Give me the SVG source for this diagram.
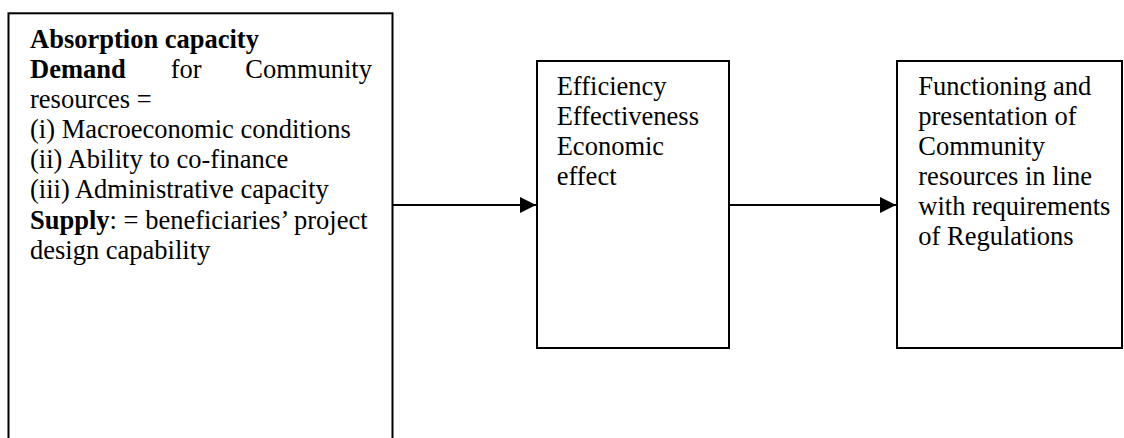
<svg xmlns="http://www.w3.org/2000/svg" width="1124" height="438" viewBox="0 0 1124 438">
<style>
.box{fill:#fff;stroke:#000;stroke-width:2}
.t{font-family:"Liberation Serif","Times New Roman",serif;font-size:26.5px;fill:#000}
.b{font-weight:bold}
.conn{stroke:#000;stroke-width:2;fill:none}
</style>
<defs>
<marker id="ah" markerWidth="16" markerHeight="16" refX="16" refY="8" orient="auto" markerUnits="userSpaceOnUse">
<path d="M0,0 L16,8 L0,16 Z" fill="#000"/>
</marker>
</defs>
<rect width="1124" height="438" fill="#fff"/>
<g id="connectors">
<line class="conn" x1="393" y1="205" x2="536" y2="205" marker-end="url(#ah)"/>
<line class="conn" x1="729" y1="205" x2="896" y2="205" marker-end="url(#ah)"/>
</g>
<g id="node-absorption">
<rect class="box" x="8.5" y="13.3" width="384" height="450"/>
<text class="t" x="30" y="48.3"><tspan class="b">Absorption capacity</tspan></text>
<text class="t" x="30" y="78.3"><tspan class="b">Demand</tspan></text>
<text class="t" x="170.7" y="78.3">for</text>
<text class="t" x="372" y="78.3" text-anchor="end">Community</text>
<text class="t" x="30" y="108.3">resources =</text>
<text class="t" x="30" y="138.3">(i) Macroeconomic conditions</text>
<text class="t" x="30" y="168.3">(ii) Ability to co-finance</text>
<text class="t" x="30" y="198.3">(iii) Administrative capacity</text>
<text class="t" x="30" y="229"><tspan class="b">Supply</tspan>: = beneficiaries’ project</text>
<text class="t" x="30" y="259">design capability</text>
</g>
<g id="node-efficiency">
<rect class="box" x="537" y="61" width="192" height="287"/>
<text class="t" x="556.7" y="95">Efficiency</text>
<text class="t" x="556.7" y="125">Effectiveness</text>
<text class="t" x="556.7" y="155">Economic</text>
<text class="t" x="556.7" y="185">effect</text>
</g>
<g id="node-functioning">
<rect class="box" x="897" y="61" width="225" height="287"/>
<text class="t" x="918.3" y="95">Functioning and</text>
<text class="t" x="918.3" y="125">presentation of</text>
<text class="t" x="918.3" y="155">Community</text>
<text class="t" x="918.3" y="185">resources in line</text>
<text class="t" x="918.3" y="215">with requirements</text>
<text class="t" x="918.3" y="245">of Regulations</text>
</g>
</svg>
